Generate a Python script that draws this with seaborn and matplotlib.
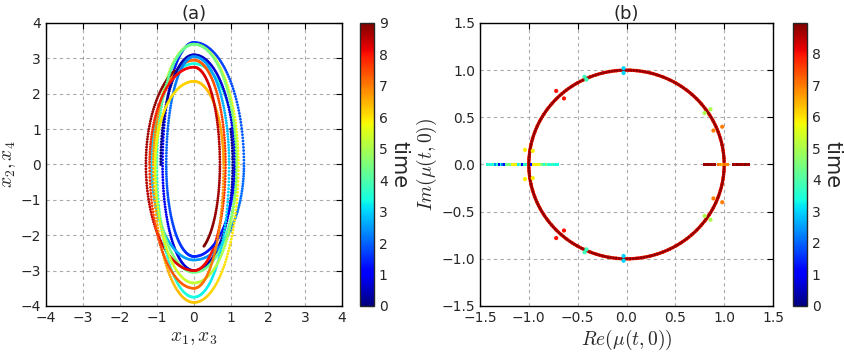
import numpy as np
import pandas as pd
import matplotlib
matplotlib.use("Agg")
import matplotlib.pyplot as plt
import seaborn as sns

# ---- panel (a): two trajectories, traced clockwise ----
# extents of each half loop
# y: alternating top / bottom, x: alternating right / left
traj_a_period = 1.9
traj_a_phase = -0.108          # start angle, in units of pi
traj_a_y = [3.0, -3.0, 3.45, -2.7, 2.85, -3.05, 3.4, -3.9, 2.95, -3.0, 2.9]
traj_a_x = [1.05, -0.85, 1.35, -1.15, 1.15, -1.05, 1.2, -1.1, 0.85, -1.3]

traj_b_period = 1.92
traj_b_phase = 1.0
traj_b_y = [3.1, -2.6, 3.05, -3.75, 3.4, -3.35, 2.35, -3.5, 2.75, -2.5]
traj_b_x = [-0.9, 1.1, -0.75, 0.95, -1.0, 1.15, -1.05, 0.8, -1.2, 0.7]

t_end = 9.0

# ---- panel (b): multipliers ----
ring_times = [7.0, 8.0, 8.9]
ring_counts = [90, 400, 220]

pair_re = [-0.03, -0.03, -0.43, -0.41, -0.72, -0.64, -1.04, -0.96, 0.80, 0.86, 0.89, 0.98]
pair_im = [1.02, 0.97, 0.93, 0.90, 0.78, 0.70, 0.155, 0.145, 0.545, 0.585, 0.36, 0.40]
pair_time = [3.0, 3.0, 3.8, 3.8, 8.0, 8.0, 5.9, 5.9, 5.0, 5.0, 7.0, 7.0]

left_mu = [-1.42, -1.40, -1.38, -1.36, -1.34, -1.32, -1.30, -1.28, -1.26, -1.24,
           -1.22, -1.20, -1.18, -1.16, -1.14, -1.12, -1.10, -1.08, -1.06, -1.04,
           -0.97, -0.95, -0.93, -0.91, -0.89, -0.87, -0.85, -0.83, -0.81, -0.79,
           -0.77, -0.75, -0.73, -0.71]
left_time = [3.6, 3.6, 3.4, 3.7, 2.4, 3.6, 1.0, 3.5, 2.2, 1.2,
             4.3, 4.6, 4.4, 5.8, 5.9, 5.8, 3.2, 4.0, 1.1, 3.6,
             1.0, 5.9, 5.8, 5.9, 5.7, 4.6, 4.3, 3.6, 4.4, 3.6,
             3.5, 3.7, 3.6, 3.4]

right_mu = [0.80, 0.82, 0.84, 0.86, 0.88, 0.90, 0.95, 0.97, 0.99, 1.01, 1.03,
            1.10, 1.12, 1.14, 1.16, 1.18, 1.20, 1.22, 1.24]
right_time = [8.8, 8.7, 8.9, 8.6, 8.8, 8.7, 7.0, 6.8, 6.5, 7.1, 6.9,
              8.8, 8.6, 8.9, 8.7, 8.8, 8.6, 8.9, 8.7]


def trace(period, phase, y_ext, x_ext, dt=0.008):
    t = np.arange(0, t_end + dt / 2, dt)
    th = phase * np.pi + 2 * np.pi * t / period
    hy = np.floor(th / np.pi).astype(int)
    hx = np.floor((th + np.pi / 2) / np.pi).astype(int)
    hy = hy - hy[0]
    hx = hx - hx[0]
    x = np.cos(th) * np.abs(np.array(x_ext))[hx]
    y = -np.sin(th) * np.abs(np.array(y_ext))[hy]
    return pd.DataFrame({"x": x, "y": y, "time": t})


traj = pd.concat([trace(traj_a_period, traj_a_phase, traj_a_y, traj_a_x),
                  trace(traj_b_period, traj_b_phase, traj_b_y, traj_b_x)],
                 ignore_index=True)

ring_parts = []
for i, (rt, n) in enumerate(zip(ring_times, ring_counts)):
    ang = np.linspace(0, 2 * np.pi, n, endpoint=False) + i * 0.004
    ring_parts.append(pd.DataFrame({"re": np.cos(ang), "im": np.sin(ang), "time": rt,
                                    "size": [7, 6, 4][i]}))
ring = pd.concat(ring_parts, ignore_index=True)

pairs = pd.DataFrame({"re": pair_re + pair_re,
                      "im": pair_im + [-v for v in pair_im],
                      "time": pair_time + pair_time})
axis_pts = pd.DataFrame({"re": left_mu + right_mu,
                         "im": 0.0,
                         "time": left_time + right_time})

sns.set_style("white")
plt.rcParams["mathtext.fontset"] = "cm"
plt.rcParams["font.family"] = ["DejaVu Sans"]

jet = plt.get_cmap("jet")

fig = plt.figure(figsize=(8.44, 3.52), dpi=100)
ax1 = fig.add_axes([0.0545, 0.1307, 0.3507, 0.804])
cax1 = fig.add_axes([0.4265, 0.1307, 0.0166, 0.804])
ax2 = fig.add_axes([0.5687, 0.1307, 0.3472, 0.804])
cax2 = fig.add_axes([0.9396, 0.1307, 0.0166, 0.804])

norm1 = plt.Normalize(0, 9)
sns.scatterplot(data=traj, x="x", y="y", hue="time", palette=jet, hue_norm=norm1,
                s=4, linewidth=0, legend=False, ax=ax1)

norm2 = plt.Normalize(0, 8.98)
for sz, part in ring.groupby("size", sort=False):
    sns.scatterplot(data=part, x="re", y="im", hue="time", palette=jet, hue_norm=norm2,
                    s=sz, linewidth=0, legend=False, ax=ax2)
sns.scatterplot(data=pairs, x="re", y="im", hue="time", palette=jet, hue_norm=norm2,
                s=9, linewidth=0, legend=False, ax=ax2)
sns.scatterplot(data=axis_pts, x="re", y="im", hue="time", palette=jet, hue_norm=norm2,
                s=8, marker="s", linewidth=0, legend=False, ax=ax2)

grid_kw = dict(color="#aaaaaa", linestyle=(0, (3, 3)), linewidth=0.8)
for ax in (ax1, ax2):
    ax.grid(True, **grid_kw)
    ax.set_axisbelow(True)
    ax.tick_params(direction="in", length=4, width=0.8, labelsize=10,
                   top=True, right=True, color="black")
    for sp in ax.spines.values():
        sp.set_color("black")
        sp.set_linewidth(1.0)

ax1.set_xlim(-4, 4)
ax1.set_ylim(-4, 4)
ax1.set_xticks(range(-4, 5))
ax1.set_yticks(range(-4, 5))
ax1.set_title("(a)", fontsize=13, pad=3)
ax1.set_xlabel(r"$x_1, x_3$", fontsize=14, labelpad=2)
ax1.set_ylabel(r"$x_2, x_4$", fontsize=14, labelpad=2)

ax2.set_xlim(-1.5, 1.5)
ax2.set_ylim(-1.5, 1.5)
ax2.set_xticks(np.arange(-1.5, 1.51, 0.5))
ax2.set_yticks(np.arange(-1.5, 1.51, 0.5))
ax2.set_xticklabels(["\u22121.5", "\u22121.0", "\u22120.5", "0.0", "0.5", "1.0", "1.5"])
ax2.set_yticklabels(["\u22121.5", "\u22121.0", "\u22120.5", "0.0", "0.5", "1.0", "1.5"])
ax2.set_title("(b)", fontsize=13, pad=3)
ax2.set_xlabel(r"$Re(\mu(t,0))$", fontsize=14, labelpad=2)
ax2.set_ylabel(r"$Im(\mu(t,0))$", fontsize=14, labelpad=2)

for cax, norm, ticks in ((cax1, norm1, range(0, 10)), (cax2, norm2, range(0, 9))):
    sm = plt.cm.ScalarMappable(norm=norm, cmap=jet)
    cb = fig.colorbar(sm, cax=cax, ticks=list(ticks))
    cb.outline.set_linewidth(1.0)
    cb.ax.tick_params(labelsize=10, direction="in", length=4)
    cb.set_label("time", rotation=270, fontsize=15, labelpad=16)

fig.savefig("out.png", dpi=100)
